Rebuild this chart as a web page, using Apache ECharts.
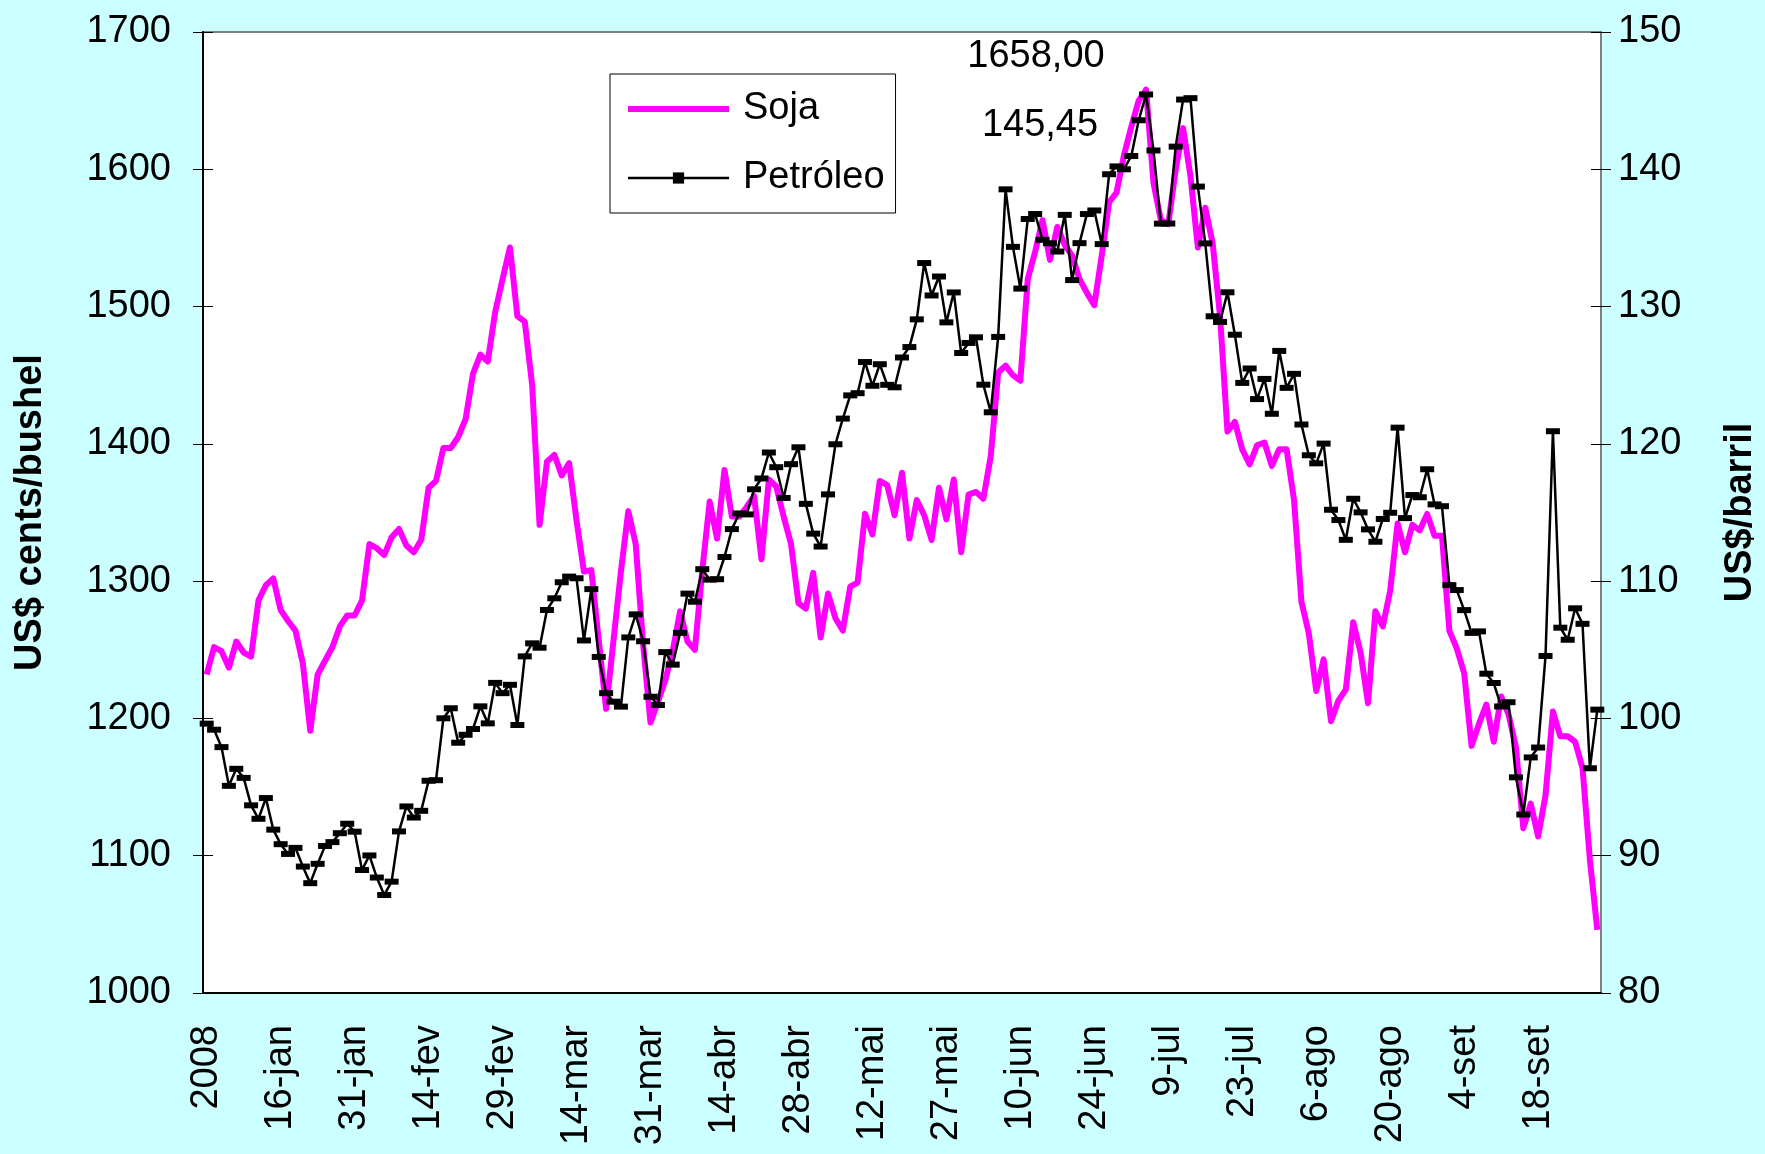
<!DOCTYPE html>
<html>
<head>
<meta charset="utf-8">
<script src="https://cdn.jsdelivr.net/npm/echarts@6/dist/echarts.min.js"></script>
<style>
html,body{margin:0;padding:0;background:#CCFFFF;}
#c{width:1765px;height:1154px;}
</style>
</head>
<body>
<div id="c"></div>
<script>
// Trading days of 2008 shown on the category axis (month -> day numbers)
const tradingDays = [
  ['jan', [2,3,4,7,8,9,10,11,14,15,16,17,18,22,23,24,25,28,29,30,31]],
  ['fev', [1,4,5,6,7,8,11,12,13,14,15,19,20,21,22,25,26,27,28,29]],
  ['mar', [3,4,5,6,7,10,11,12,13,14,17,18,19,20,24,25,26,27,28,31]],
  ['abr', [1,2,3,4,7,8,9,10,11,14,15,16,17,18,21,22,23,24,25,28,29,30]],
  ['mai', [1,2,5,6,7,8,9,12,13,14,15,16,19,20,21,22,23,27,28,29,30]],
  ['jun', [2,3,4,5,6,9,10,11,12,13,16,17,18,19,20,23,24,25,26,27,30]],
  ['jul', [1,2,3,7,8,9,10,11,14,15,16,17,18,21,22,23,24,25,28,29,30,31]],
  ['ago', [1,4,5,6,7,8,11,12,13,14,15,18,19,20,21,22,25,26,27,28,29]],
  ['set', [2,3,4,5,8,9,10,11,12,15,16,17,18,19,22,23,24,25,26,29,30]]
];
const categories = [];
tradingDays.forEach(([m, ds]) => ds.forEach(d => categories.push(d + '-' + m)));

const tickLabels = ['2008','16-jan','31-jan','14-fev','29-fev','14-mar','31-mar','14-abr','28-abr',
  '12-mai','27-mai','10-jun','24-jun','9-jul','23-jul','6-ago','20-ago','4-set','18-set'];

// Soja (US$ cents/bushel)
const soja = [
  1232,1252,1249,1237,1256,1248,1245,1286,1297,1302,
  1279,1271,1264,1240,1191,1232,1242,1252,1267,1275,
  1275,1286,1327,1324,1319,1332,1338,1326,1321,1330,
  1368,1373,1397,1397,1405,1418,1451,1465,1460,1496,
  1520,1543,1493,1489,1443,1341,1387,1392,1377,1386,
  1344,1307,1308,1257,1207,1257,1307,1351,1327,1254,
  1197,1212,1228,1249,1278,1256,1250,1308,1358,1331,
  1381,1347,1347,1354,1362,1316,1374,1369,1347,1327,
  1284,1280,1306,1259,1291,1273,1264,1296,1299,1349,
  1334,1373,1370,1348,1379,1331,1359,1348,1330,1368,
  1345,1374,1321,1363,1365,1360,1391,1452,1457,1450,
  1446,1520,1540,1563,1534,1558,1545,1537,1520,1510,
  1501,1537,1576,1583,1610,1631,1650,1658,1590,1563,
  1560,1600,1630,1595,1543,1572,1546,1493,1409,1416,
  1396,1385,1399,1401,1384,1396,1396,1359,1285,1262,
  1220,1243,1198,1213,1221,1270,1248,1211,1278,1267,
  1293,1342,1321,1341,1337,1349,1333,1333,1264,1251,
  1233,1180,1196,1210,1183,1216,1203,1179,1120,1138,
  1114,1144,1205,1187,1187,1183,1164,1097,1046
];

// Petróleo (US$/barril)
const petroleo = [
  99.62,99.18,97.91,95.09,96.33,95.67,93.67,92.69,94.20,91.90,
  90.84,90.13,90.57,89.21,88.00,89.41,90.71,90.99,91.64,92.33,
  91.75,88.96,90.02,88.41,87.14,88.11,91.77,93.59,92.78,93.27,
  95.46,95.50,100.01,100.74,98.23,98.81,99.23,100.88,99.64,102.59,
  101.84,102.45,99.52,104.52,105.47,105.15,107.90,108.75,109.92,110.33,
  110.21,105.68,109.42,104.48,101.84,101.22,100.86,105.90,107.58,105.62,
  101.58,100.98,104.83,103.92,106.23,109.09,108.50,110.87,110.11,110.14,
  111.76,113.79,114.93,114.86,116.69,117.48,119.37,118.30,116.06,118.52,
  119.75,115.63,113.46,112.52,116.32,119.97,121.84,123.53,123.69,125.96,
  124.23,125.80,124.30,124.12,126.29,127.05,129.07,133.17,130.81,132.19,
  128.85,131.03,126.62,127.35,127.76,124.31,122.30,127.79,138.54,134.35,
  131.31,136.38,136.74,134.86,134.61,134.01,136.68,131.93,134.62,136.74,
  137.00,134.55,139.64,140.21,140.00,140.97,143.57,145.45,141.37,136.04,
  136.05,141.65,145.08,145.18,138.74,134.60,129.29,128.88,131.04,127.95,
  124.44,125.49,123.26,124.73,122.19,126.77,124.08,125.10,121.41,119.17,
  118.58,120.02,115.20,114.45,113.01,116.00,115.01,113.77,112.87,114.53,
  114.98,121.18,114.59,116.27,116.11,118.15,115.59,115.46,109.71,109.35,
  107.89,106.23,106.34,103.26,102.58,100.87,101.18,95.71,93.00,97.16,
  97.88,104.55,120.92,106.61,105.73,108.02,106.89,96.37,100.64
];

const annotations = ['1658,00', '145,45'];

const FONT = "'Liberation Sans', Arial, Helvetica, sans-serif";
const chart = echarts.init(document.getElementById('c'), null, {renderer: 'canvas'});

const option = {
  animation: false,
  backgroundColor: '#CCFFFF',
  textStyle: {fontFamily: FONT},
  grid: {
    left: 203, right: 164, top: 32, bottom: 161,
    show: true, backgroundColor: '#FFFFFF', borderColor: '#808080', borderWidth: 2,
    containLabel: false, outerBoundsMode: 'none'
  },
  legend: {
    orient: 'vertical', left: 610, top: 74,
    padding: [16, 11, 16, 15], itemGap: 31, itemWidth: 101, itemHeight: 14,
    backgroundColor: '#FFFFFF', borderColor: '#000000', borderWidth: 1,
    textStyle: {fontSize: 38, color: '#000', fontFamily: FONT, lineHeight: 38, padding: [0, 0, 0, 9]},
    data: [
      {name: 'Soja', lineStyle: {width: 6, color: '#FF00FF'}, itemStyle: {opacity: 0}},
      {name: 'Petróleo', lineStyle: {width: 2.5, color: '#000'}}
    ]
  },
  xAxis: [
    {
      type: 'category', data: categories, boundaryGap: true, position: 'bottom',
      axisLine: {lineStyle: {color: '#000', width: 2}},
      axisTick: {interval: 0, length: 10, lineStyle: {color: '#000', width: 1}},
      axisLabel: {
        interval: 9, rotate: 90, margin: 32, fontSize: 38, color: '#000', fontFamily: FONT,
        formatter: (v, i) => tickLabels[Math.round(i / 10)]
      },
      splitLine: {show: false}
    },
    {
      type: 'category', data: categories, boundaryGap: true, position: 'bottom',
      axisLine: {show: false},
      axisTick: {interval: 0, inside: true, length: 10, lineStyle: {color: '#000', width: 1}},
      axisLabel: {show: false}, splitLine: {show: false}
    }
  ],
  yAxis: [
    {
      type: 'value', position: 'left', min: 1000, max: 1700, interval: 100,
      axisLine: {show: true, lineStyle: {color: '#000', width: 2}},
      axisTick: {show: true, length: 10, lineStyle: {color: '#000'}},
      axisLabel: {fontSize: 38, color: '#000', margin: 32, fontFamily: FONT, formatter: v => String(v)},
      splitLine: {show: false},
      name: 'US$ cents/bushel', nameLocation: 'middle', nameRotate: 90, nameGap: 153,
      nameTextStyle: {fontSize: 38, fontWeight: 'bold', color: '#000', fontFamily: FONT}
    },
    {
      type: 'value', position: 'right', min: 80, max: 150, interval: 10,
      axisLine: {show: true, lineStyle: {color: '#808080', width: 2}},
      axisTick: {show: true, length: 10, lineStyle: {color: '#000'}},
      axisLabel: {fontSize: 38, color: '#000', margin: 17, fontFamily: FONT, formatter: v => String(v)},
      splitLine: {show: false},
      name: 'US$/barril', nameLocation: 'middle', nameRotate: 90, nameGap: 121,
      nameTextStyle: {fontSize: 38, fontWeight: 'bold', color: '#000', fontFamily: FONT}
    },
    {
      type: 'value', position: 'left', min: 1000, max: 1700, interval: 100,
      axisLine: {show: false},
      axisTick: {show: true, inside: true, length: 10, lineStyle: {color: '#000'}},
      axisLabel: {show: false}, splitLine: {show: false}
    },
    {
      type: 'value', position: 'right', min: 80, max: 150, interval: 10,
      axisLine: {show: false},
      axisTick: {show: true, inside: true, length: 10, lineStyle: {color: '#000'}},
      axisLabel: {show: false}, splitLine: {show: false}
    }
  ],
  series: [
    {
      name: 'Soja', type: 'line', data: soja, xAxisIndex: 0, yAxisIndex: 0,
      symbol: 'none', smooth: false,
      lineStyle: {color: '#FF00FF', width: 6, join: 'round'},
      itemStyle: {color: '#FF00FF'}, z: 2
    },
    {
      name: 'Petróleo', type: 'line', data: petroleo, xAxisIndex: 0, yAxisIndex: 1,
      symbol: 'rect', symbolSize: [14, 6], showAllSymbol: true, smooth: false,
      lineStyle: {color: '#000', width: 2.5},
      itemStyle: {color: '#000'}, z: 3
    }
  ],
  graphic: [
    {type: 'text', x: 1036, y: 57, style: {text: annotations[0], fontSize: 38, fontFamily: FONT, fill: '#000', align: 'center', verticalAlign: 'middle'}},
    {type: 'text', x: 1040, y: 126, style: {text: annotations[1], fontSize: 38, fontFamily: FONT, fill: '#000', align: 'center', verticalAlign: 'middle'}}
  ]
};
chart.setOption(option);
</script>
</body>
</html>
